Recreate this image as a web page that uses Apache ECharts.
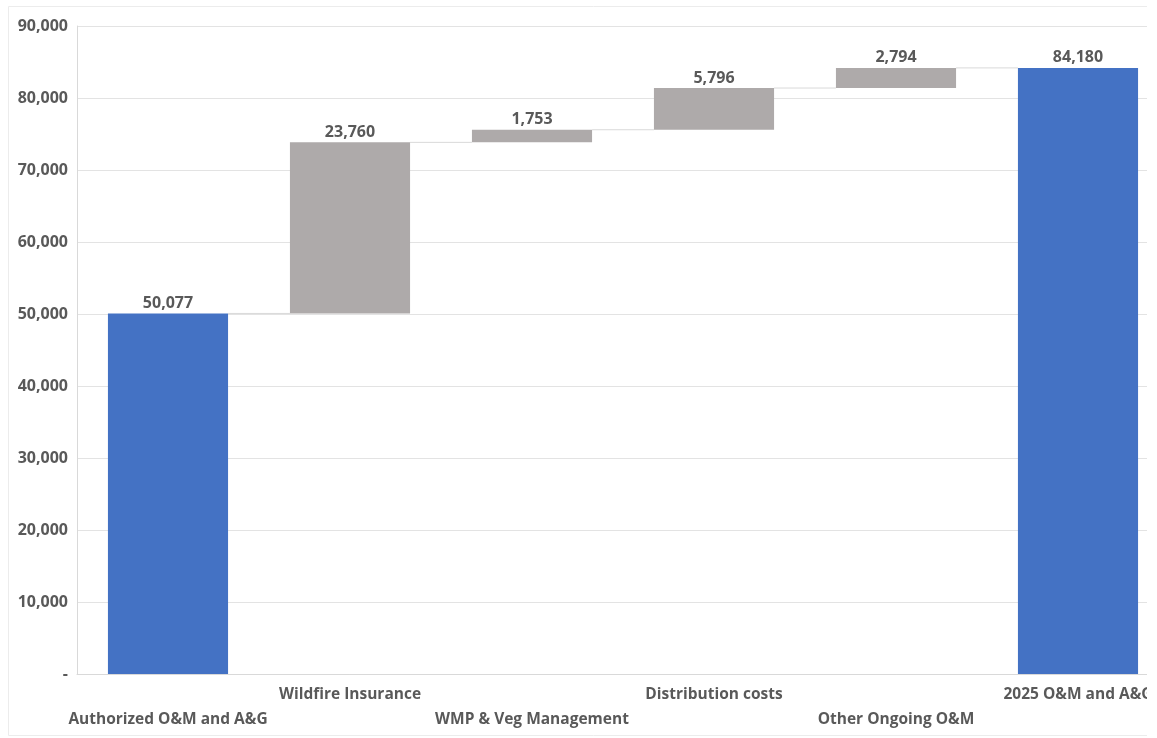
<!DOCTYPE html>
<html>
<head>
<meta charset="utf-8">
<script src="https://cdn.jsdelivr.net/npm/echarts@6/dist/echarts.min.js"></script>
<style>
  html, body { margin: 0; padding: 0; background: #ffffff; overflow: hidden; }
  #frame { width: 1147px; height: 738px; overflow: hidden; }
  #chart { width: 1190px; height: 738px; }
</style>
</head>
<body>
<div id="frame"><div id="chart"></div></div>
<script>
// O&M and A&G bridge, 2025
const categories = [
  'Authorized O&M and A&G',
  'Wildfire Insurance',
  'WMP & Veg Management',
  'Distribution costs',
  'Other Ongoing O&M',
  '2025 O&M and A&G'
];
const values = [50077, 23760, 1753, 5796, 2794, 84180];
const isTotal = [true, false, false, false, false, true];
const yTicks = { min: 0, max: 90000, interval: 10000 };

// invisible base for each floating step, and the running level after each bar
const bases = [];
const levels = [];
let running = 0;
values.forEach((v, i) => {
  if (isTotal[i]) { bases.push(0); running = v; }
  else { bases.push(running); running += v; }
  levels.push(running);
});

const fmt = v => v === 0 ? '-' : v.toLocaleString('en-US');
const FONT = '"Open Sans", "Noto Sans", sans-serif';
const TXT = '#595959';

const connectors = levels.slice(0, -1).map((lv, i) => [i, lv]);

const chart = echarts.init(document.getElementById('chart'));
chart.setOption({
  animation: false,
  backgroundColor: '#ffffff',
  graphic: [{
    type: 'rect',
    shape: { x: 8.5, y: 6.5, width: 1170, height: 729 },
    style: { fill: 'none', stroke: '#ececec', lineWidth: 1 },
    silent: true, z: -1
  }],
  grid: { left: 77, top: 26, width: 1092, height: 648, containLabel: false },
  xAxis: {
    type: 'category',
    data: categories,
    axisLine: { show: true, lineStyle: { color: '#d9d9d9', width: 1 } },
    axisTick: { show: false },
    axisLabel: {
      interval: 0,
      margin: 8,
      color: TXT,
      fontFamily: FONT,
      fontWeight: 'bold',
      fontSize: 15.5,
      lineHeight: 25,
      formatter: (name, idx) => idx % 2 === 0 ? '\n' + name : name
    }
  },
  yAxis: {
    type: 'value',
    min: yTicks.min,
    max: yTicks.max,
    interval: yTicks.interval,
    axisLine: { show: true, lineStyle: { color: '#d9d9d9', width: 1 } },
    axisTick: { show: false },
    splitLine: { lineStyle: { color: '#e3e3e3', width: 1 } },
    axisLabel: {
      color: TXT,
      fontFamily: FONT,
      fontWeight: 'bold',
      fontSize: 16,
      margin: 9,
      formatter: fmt
    }
  },
  series: [
    {
      name: 'base',
      type: 'bar',
      stack: 'w',
      barWidth: '66%',
      itemStyle: { color: 'transparent' },
      silent: true,
      data: bases
    },
    {
      name: 'value',
      type: 'bar',
      stack: 'w',
      barWidth: '66%',
      data: values.map((v, i) => ({
        value: v,
        itemStyle: { color: isTotal[i] ? '#4472c4' : '#aeaaaa' }
      })),
      label: {
        show: true,
        position: 'top',
        distance: 2,
        color: TXT,
        fontFamily: FONT,
        fontWeight: 'bold',
        fontSize: 16,
        formatter: p => fmt(p.value)
      }
    },
    {
      name: 'connector',
      type: 'custom',
      silent: true,
      z: 1,
      data: connectors,
      renderItem: (params, api) => {
        const i = api.value(0);
        const lv = api.value(1);
        const a = api.coord([i, lv]);
        const b = api.coord([i + 1, lv]);
        const half = api.size([1, 0])[0] * 0.33;
        return {
          type: 'line',
          shape: { x1: a[0] + half, y1: a[1], x2: b[0] - half, y2: b[1] },
          style: { stroke: '#d9d9d9', lineWidth: 1 }
        };
      }
    }
  ]
});
</script>
</body>
</html>
